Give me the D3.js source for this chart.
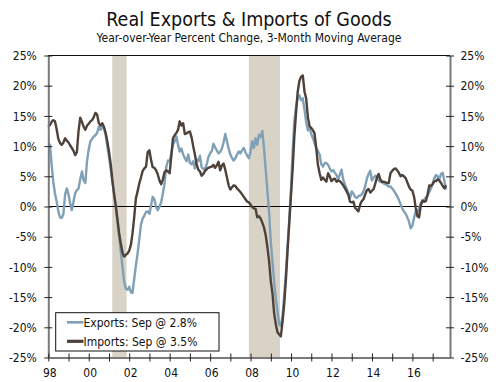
<!DOCTYPE html>
<html>
<head>
<meta charset="utf-8">
<script src="https://cdn.jsdelivr.net/npm/d3@7"></script>
<style>
  html, body { margin: 0; padding: 0; background: #fff; }
  svg { display: block; }
  text { font-family: 'DejaVu Sans Condensed', 'DejaVu Sans', sans-serif; font-stretch: condensed; fill: #111; }
</style>
</head>
<body>
<svg id="chart" width="500" height="382"></svg>
<script>
// ---- Data (monthly, Jan 1998 .. Sep 2017), year-over-year % change, 3-month moving average ----
const startYear = 1998;
const exportsYoY = [
  // 1998
  10.5, 10.2, 7.0, 4.1, 2.2, 0.8, -0.8, -1.8, -1.9, -1.2, 2.0, 3.0,
  // 1999
  2.0, 0.5, -0.6, 0.8, 2.2, 2.7, 3.0, 4.5, 5.8, 4.3, 3.9, 7.5,
  // 2000
  9.5, 10.8, 11.2, 11.6, 11.8, 12.2, 13.2, 12.7, 13.2, 13.0, 11.9, 10.0,
  // 2001
  8.2, 6.2, 4.2, 2.4, 0.4, -2.3, -4.9, -7.4, -9.9, -12.4, -13.6, -13.8,
  // 2002
  -13.3, -14.2, -14.3, -12.0, -9.8, -7.8, -5.5, -3.0, -2.0, -1.5, -0.9, -0.8,
  // 2003
  -1.2, 0.2, 1.6, 1.2, -0.1, -0.6, 0.0, 0.7, 2.2, 3.8, 6.5, 7.6,
  // 2004
  7.5, 8.8, 10.2, 10.8, 11.6, 10.2, 9.1, 9.6, 8.6, 8.0, 7.5, 8.6,
  // 2005
  7.2, 7.0, 7.5, 6.3, 7.8, 7.5, 8.4, 6.5, 6.2, 6.3, 7.0, 8.2,
  // 2006
  8.8, 9.2, 10.4, 9.8, 9.3, 8.8, 9.0, 9.6, 10.6, 12.0, 10.8, 9.6,
  // 2007
  8.6, 8.0, 7.6, 8.0, 8.6, 9.1, 8.8, 9.3, 9.7, 9.0, 8.4, 8.0,
  // 2008
  9.1, 10.8, 9.7, 11.3, 10.2, 11.9, 11.5, 12.5, 9.5, 6.0, 2.5, -1.0,
  // 2009
  -6.0, -9.3, -12.4, -15.3, -17.4, -19.5, -19.8, -18.0, -14.5, -10.8, -6.5, -2.0,
  // 2010
  3.0, 9.5, 14.0, 16.5, 18.0, 18.4, 17.6, 17.9, 16.0, 14.0, 12.6, 13.0,
  // 2011
  12.0, 11.3, 10.5, 9.6, 9.2, 8.6, 7.0, 6.6, 7.2, 7.2, 6.9, 6.3,
  // 2012
  5.8, 6.0, 5.6, 5.2, 4.5, 5.3, 6.1, 4.4, 3.6, 3.0, 2.2, 1.4,
  // 2013
  2.5, 2.1, 1.6, 1.4, 1.7, 1.8, 2.0, 2.5, 3.4, 4.6, 5.4, 5.9,
  // 2014
  4.3, 4.8, 5.1, 4.8, 4.3, 4.1, 4.0, 3.8, 3.7, 3.5, 3.3, 3.3,
  // 2015
  3.0, 2.6, 2.2, 1.7, 1.1, 0.4, -0.3, -0.8, -1.2, -1.8, -2.5, -3.6,
  // 2016
  -3.2, -1.8, -0.8, -0.9, -0.3, 0.6, 0.7, 1.1, 1.5, 1.8, 2.4, 3.0,
  // 2017 (Jan..Sep)
  3.8, 4.7, 5.2, 5.0, 4.5, 5.4, 5.6, 4.2, 2.8
];
const importsYoY = [
  // 1998
  13.2, 13.5, 14.0, 14.3, 14.1, 12.8, 11.2, 10.5, 10.2, 10.6, 11.3, 10.9,
  // 1999
  10.6, 10.1, 9.7, 9.2, 8.5, 9.0, 12.5, 14.7, 14.0, 13.2, 12.7, 13.4,
  // 2000
  13.7, 14.1, 14.3, 14.8, 15.5, 15.2, 13.8, 13.4, 13.8, 13.2, 12.2, 10.8,
  // 2001
  9.1, 7.0, 4.5, 2.1, 0.2, -2.0, -4.3, -6.1, -7.6, -8.3, -8.0, -7.8,
  // 2002
  -7.3, -6.3, -4.5, -1.8, 1.3, 2.5, 3.8, 4.8, 5.9, 6.3, 6.6, 9.0,
  // 2003
  9.3, 7.6, 6.5, 6.4, 6.0, 5.3, 4.3, 3.7, 4.5, 5.7, 6.0, 5.8,
  // 2004
  5.5, 8.5, 11.3, 11.8, 12.2, 12.7, 14.1, 13.4, 13.8, 12.0, 12.1, 12.3,
  // 2005
  12.4, 11.4, 10.0, 8.6, 7.0, 6.1, 5.8, 5.1, 5.4, 5.9, 6.2, 6.4,
  // 2006
  6.5, 6.6, 6.9, 6.4, 6.8, 7.4, 6.0, 6.8, 7.1, 6.1, 4.8, 3.5,
  // 2007
  2.8, 3.2, 3.5, 3.4, 3.0, 2.7, 2.4, 2.0, 1.6, 1.2, 0.8, 0.7,
  // 2008
  0.3, -0.1, -0.3, -0.4, -1.8, -1.6, -2.0, -2.7, -3.5, -4.8, -6.8, -9.1,
  // 2009
  -12.4, -14.5, -17.6, -19.5, -20.8, -21.2, -21.5, -19.0, -16.0, -12.0, -7.0, -2.5,
  // 2010
  2.0, 6.5, 11.5, 15.5, 19.0, 20.8, 21.5, 21.7, 19.0, 17.9, 14.8, 13.3,
  // 2011
  13.0, 12.6, 12.1, 9.7, 6.9, 5.5, 4.4, 4.8, 4.4, 4.1, 5.5, 5.0,
  // 2012
  4.2, 4.5, 4.6, 4.1, 4.3, 4.2, 3.9, 3.5, 3.0, 2.5, 1.9, 0.8,
  // 2013
  0.7, 0.8, -0.2, -0.5, -0.8, 0.3, 0.9, 1.2, 2.0, 2.7, 2.9, 2.3,
  // 2014
  2.6, 2.9, 3.8, 4.8, 5.4, 4.5, 4.1, 4.1, 4.0, 3.9, 3.9, 5.5,
  // 2015
  5.9, 6.2, 6.3, 6.0, 5.6, 5.0, 5.2, 5.0, 4.7, 4.0, 3.3, 2.8,
  // 2016
  2.6, 1.6, -0.2, -1.6, -1.8, 0.2, 1.0, 0.8, 0.9, 2.0, 3.5, 3.4,
  // 2017 (Jan..Sep)
  3.7, 4.2, 4.2, 4.5, 4.3, 3.9, 3.4, 3.0, 3.5
];
// Recessions (start month, end month) as [year, monthIndex]
const recessionStarts = [[2001, 2], [2007, 11]];
const recessionEnds   = [[2001, 10], [2009, 5]];
const yTickValues = [-25, -20, -15, -10, -5, 0, 5, 10, 15, 20, 25];
const seriesNames = ["Exports: Sep @ 2.8%", "Imports: Sep @ 3.5%"];
const titleText = "Real Exports & Imports of Goods";
const subtitleText = "Year-over-Year Percent Change, 3-Month Moving Average";

// ---- Layout ----
const L = 48.3, R = 450, T = 55.5, B = 357.5;
const colExp = "#7fa0b6", colImp = "#4d4139", colShade = "#d8d3c6", colAxis = "#7a7a7a";

const svg = d3.select("#chart");
const x = d3.scaleTime()
  .domain([new Date(1998, 0, 1), new Date(2017, 10, 10)])
  .range([L, R]);
const y = d3.scaleLinear().domain([-25, 25]).range([B, T]);

const dateOf = i => new Date(startYear, i, 1);

// Recession shading
svg.append("g").selectAll("rect")
  .data(recessionStarts.map((s, i) => [new Date(s[0], s[1], 1), new Date(recessionEnds[i][0], recessionEnds[i][1], 15)]))
  .join("rect")
  .attr("x", d => x(d[0]))
  .attr("width", d => x(d[1]) - x(d[0]))
  .attr("y", T)
  .attr("height", B - T)
  .attr("fill", colShade);

// Zero line
svg.append("line")
  .attr("x1", L).attr("x2", R)
  .attr("y1", y(0)).attr("y2", y(0))
  .attr("stroke", "#000").attr("stroke-width", 1);

// Top border
svg.append("line")
  .attr("x1", L).attr("x2", R)
  .attr("y1", T).attr("y2", T)
  .attr("stroke", "#111").attr("stroke-width", 1);

// Lines
const line = d3.line().x((d, i) => x(dateOf(i))).y(d => y(d)).curve(d3.curveLinear);
svg.append("path").datum(exportsYoY)
  .attr("d", line).attr("fill", "none")
  .attr("stroke", colExp).attr("stroke-width", 2.4).attr("stroke-linejoin", "round");
svg.append("path").datum(importsYoY)
  .attr("d", line).attr("fill", "none")
  .attr("stroke", colImp).attr("stroke-width", 2.4).attr("stroke-linejoin", "round");

// Axes
const fmtPct = d => d + "%";
const gL = svg.append("g").attr("transform", `translate(${L},0)`)
  .call(d3.axisLeft(y).tickValues(yTickValues).tickFormat(fmtPct).tickSizeOuter(0).tickSizeInner(4));
const gR = svg.append("g").attr("transform", `translate(${R},0)`)
  .call(d3.axisRight(y).tickValues(yTickValues).tickFormat(fmtPct).tickSizeOuter(0).tickSizeInner(4));
const gB = svg.append("g").attr("transform", `translate(0,${B})`)
  .call(d3.axisBottom(x).ticks(d3.timeYear.every(1))
    .tickFormat(d => d.getFullYear() % 2 === 0 ? d3.timeFormat("%y")(d) : "")
    .tickSizeOuter(0).tickSizeInner(4));

[gL, gR, gB].forEach(g => {
  g.select(".domain").attr("stroke", colAxis).attr("stroke-width", 2);
  g.selectAll(".tick line").attr("stroke", "#222").attr("stroke-width", 1);
  g.selectAll(".tick text").style("font-size", "12px").attr("fill", "#111");
});
gL.selectAll(".tick line").attr("x1", -4).attr("x2", 4);
gL.selectAll(".tick text").attr("x", -11.5).attr("dy", "0.35em");
gR.selectAll(".tick line").attr("x1", -4).attr("x2", 4);
gR.selectAll(".tick text").attr("x", 10.5).attr("dy", "0.35em");
gB.selectAll(".tick line").attr("y1", -4).attr("y2", 4);
gB.selectAll(".tick text").attr("y", 19.5).attr("dy", 0).attr("dx", 1);

// Titles
svg.append("text").attr("x", 249).attr("y", 25.5).attr("text-anchor", "middle")
  .style("font-size", "19.5px").text(titleText);
svg.append("text").attr("x", 249).attr("y", 41.5).attr("text-anchor", "middle")
  .style("font-size", "12px").text(subtitleText);

// Legend
const lg = svg.append("g");
lg.append("rect").attr("x", 55.7).attr("y", 312.7).attr("width", 163.3).attr("height", 38.3)
  .attr("fill", "#fff").attr("stroke", "#111").attr("stroke-width", 1);
const legendItems = [
  { name: seriesNames[0], color: colExp, w: 2.6, yy: 322.3 },
  { name: seriesNames[1], color: colImp, w: 3.2, yy: 341.3 }
];
legendItems.forEach(it => {
  lg.append("line").attr("x1", 67).attr("x2", 83.5).attr("y1", it.yy).attr("y2", it.yy)
    .attr("stroke", it.color).attr("stroke-width", it.w);
  lg.append("text").attr("x", 83.5).attr("y", it.yy + 4.3).style("font-size", "12px").text(it.name);
});
</script>
</body>
</html>
